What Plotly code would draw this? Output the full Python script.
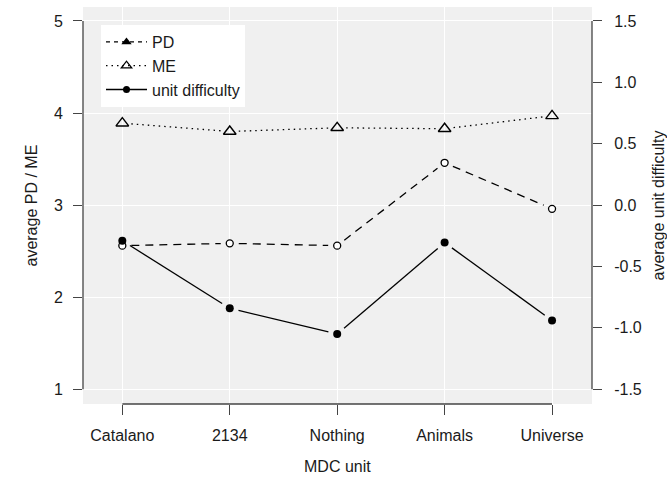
import math
import plotly.graph_objects as go

# ---- data ----
units = ["Catalano", "2134", "Nothing", "Animals", "Universe"]
pd_values = [2.56, 2.585, 2.56, 3.46, 2.96]
me_values = [3.89, 3.80, 3.84, 3.83, 3.97]
ud_values = [-0.29, -0.84, -1.05, -0.305, -0.94]
left_ticks = [1, 2, 3, 4, 5]
right_ticks = [-1.5, -1.0, -0.5, 0.0, 0.5, 1.0, 1.5]
right_tick_labels = ["-1.5", "-1.0", "-0.5", "0.0", "0.5", "1.0", "1.5"]

# ---- layout constants ----
W, H = 667, 481
ML, MR, MT, MB = 83, 75, 7, 77
XR = [-0.366, 4.372]
YR = [0.84, 5.152]
Y2R = [-1.62, 1.614]
FONT = "Liberation Sans, Arial, sans-serif"
AX = "#444444"
TXT = "#1a1a1a"
FS = 16

pw, ph = W - ML - MR, H - MT - MB
ppx = pw / (XR[1] - XR[0])
ppy = ph / (YR[1] - YR[0])
ppy2 = ph / (Y2R[1] - Y2R[0])

xpos = list(range(len(units)))


def gapped(xs, ys, sx, sy, g=9.0):
    """Segments between consecutive points, shortened near each point (type='b')."""
    X, Y = [], []
    for i in range(len(xs) - 1):
        dx, dy = xs[i + 1] - xs[i], ys[i + 1] - ys[i]
        L = math.hypot(dx * sx, dy * sy)
        f = g / L
        X += [xs[i] + dx * f, xs[i + 1] - dx * f, None]
        Y += [ys[i] + dy * f, ys[i + 1] - dy * f, None]
    return X, Y


fig = go.Figure()

# lines
gx, gy = gapped(xpos, me_values, ppx, ppy)
fig.add_trace(go.Scatter(x=gx, y=gy, mode="lines", showlegend=False, hoverinfo="skip",
                         line=dict(color="black", width=1.3, dash="1.5px,4px")))
gx, gy = gapped(xpos, pd_values, ppx, ppy)
fig.add_trace(go.Scatter(x=gx, y=gy, mode="lines", showlegend=False, hoverinfo="skip",
                         line=dict(color="black", width=1.3, dash="8px,6px")))
gx, gy = gapped(xpos, ud_values, ppx, ppy2)
fig.add_trace(go.Scatter(x=gx, y=gy, mode="lines", showlegend=False, hoverinfo="skip",
                         yaxis="y2", line=dict(color="black", width=1.3)))

# markers
fig.add_trace(go.Scatter(x=xpos, y=me_values, mode="markers", showlegend=False,
                         marker=dict(symbol="triangle-up-open", size=11, color="black",
                                     line=dict(width=1.4, color="black"))))
fig.add_trace(go.Scatter(x=xpos, y=pd_values, mode="markers", showlegend=False,
                         marker=dict(symbol="circle", size=7, color="white",
                                     line=dict(width=1.3, color="black"))))
fig.add_trace(go.Scatter(x=xpos, y=ud_values, mode="markers", showlegend=False, yaxis="y2",
                         marker=dict(symbol="circle", size=8, color="black",
                                     line=dict(width=0, color="black"))))

# legend-only entries
fig.add_trace(go.Scatter(x=[None], y=[None], mode="lines+markers", name="PD",
                         line=dict(color="black", width=1.3, dash="4px,4px"),
                         marker=dict(symbol="triangle-up", size=9, color="black")))
fig.add_trace(go.Scatter(x=[None], y=[None], mode="lines+markers", name="ME",
                         line=dict(color="black", width=1.3, dash="1.5px,4px"),
                         marker=dict(symbol="triangle-up-open", size=9, color="black",
                                     line=dict(width=1.3, color="black"))))
fig.add_trace(go.Scatter(x=[None], y=[None], mode="lines+markers", name="unit difficulty",
                         line=dict(color="black", width=1.3),
                         marker=dict(symbol="circle", size=7, color="black")))

shapes = [
    dict(type="line", xref="paper", x0=0, x1=0, yref="y", y0=left_ticks[0], y1=left_ticks[-1],
         line=dict(color=AX, width=1.3)),
    dict(type="line", xref="paper", x0=1, x1=1, yref="y2", y0=right_ticks[0], y1=right_ticks[-1],
         line=dict(color=AX, width=1.3)),
    dict(type="line", xref="x", x0=xpos[0], x1=xpos[-1], yref="paper", y0=0, y1=0,
         line=dict(color=AX, width=1.3)),
]

annotations = [
    dict(text="average PD / ME", xref="paper", yref="paper", x=(31 - ML) / pw, y=0.5,
         textangle=-90, showarrow=False, xanchor="center", yanchor="middle",
         font=dict(size=FS, color=TXT)),
    dict(text="average unit difficulty", xref="paper", yref="paper", x=(658 - ML) / pw, y=0.5,
         textangle=-90, showarrow=False, xanchor="center", yanchor="middle",
         font=dict(size=FS, color=TXT)),
    dict(text="MDC unit", xref="paper", yref="paper", x=0.5, y=-(466 - (H - MB)) / ph,
         showarrow=False, xanchor="center", yanchor="middle", font=dict(size=FS, color=TXT)),
]

fig.update_layout(
    width=W, height=H,
    margin=dict(l=ML, r=MR, t=MT, b=MB, pad=0),
    paper_bgcolor="white", plot_bgcolor="#f0f0f0",
    font=dict(family=FONT, size=FS, color=TXT),
    xaxis=dict(range=XR, tickvals=xpos, ticktext=units, showgrid=True, gridcolor="white",
               gridwidth=1.2, zeroline=False, showline=False, ticks="outside", ticklen=10,
               tickwidth=1.3, tickcolor=AX, ticklabelstandoff=7, automargin=False),
    yaxis=dict(range=YR, tickvals=left_ticks, showgrid=True, gridcolor="white", gridwidth=1.2,
               zeroline=False, showline=False, ticks="outside", ticklen=9, tickwidth=1.3,
               tickcolor=AX, ticklabelstandoff=7, automargin=False),
    yaxis2=dict(range=Y2R, tickvals=right_ticks, ticktext=right_tick_labels, overlaying="y",
                side="right", showgrid=False, zeroline=False, showline=False, ticks="outside",
                ticklen=9, tickwidth=1.3, tickcolor=AX, ticklabelstandoff=9, automargin=False),
    legend=dict(x=(101 - ML) / pw, y=1 - (25 - MT) / ph, xanchor="left", yanchor="top",
                bgcolor="white", borderwidth=0, font=dict(size=FS, color=TXT),
                tracegroupgap=0, itemwidth=41),
    shapes=shapes, annotations=annotations,
)

fig.write_html("out.html", config={"displayModeBar": False},
               post_script="document.body.style.margin='0px';document.body.style.overflow='hidden';")
